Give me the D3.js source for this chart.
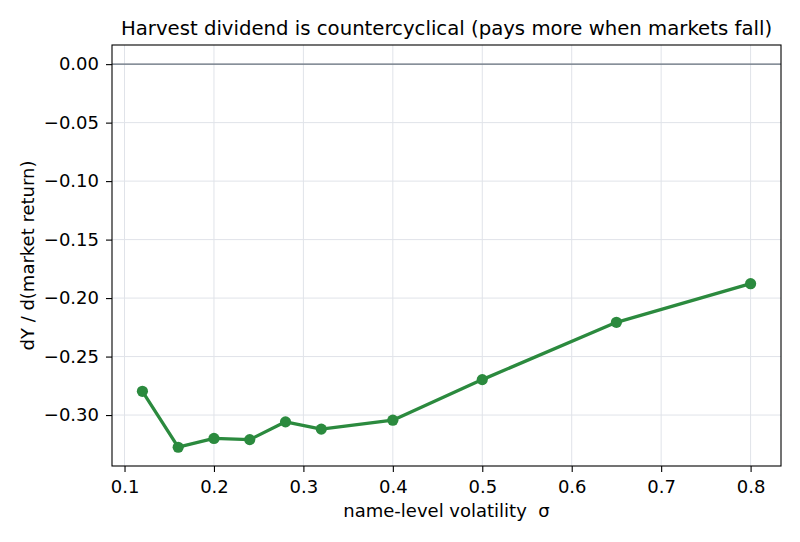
<!DOCTYPE html>
<html><head><meta charset="utf-8">
<script src="https://cdn.jsdelivr.net/npm/d3@7"></script>
<style>body{margin:0;background:#fff;} text{font-family:"DejaVu Sans",sans-serif;}</style>
</head><body><svg id="c" width="800" height="542"></svg>
<script>
const sigma = [0.12, 0.16, 0.20, 0.24, 0.28, 0.32, 0.40, 0.50, 0.65, 0.80];
const dYdM = [-0.2797, -0.3275, -0.3200, -0.3210, -0.3058, -0.3120, -0.3044, -0.2697, -0.2207, -0.1877];
const xTicks = [0.1, 0.2, 0.3, 0.4, 0.5, 0.6, 0.7, 0.8];
const yTicks = [0.00, -0.05, -0.10, -0.15, -0.20, -0.25, -0.30];
const titleText = "Harvest dividend is countercyclical (pays more when markets fall)";
const xLabel = "name-level volatility  σ";
const yLabel = "dY / d(market return)";

const svg = d3.select("#c");
const L = 112, R = 781, T = 45, B = 466;
const x = d3.scaleLinear().domain([0.086, 0.834]).range([L, R]);
const y = d3.scaleLinear().domain([-0.34355, 0.01636]).range([B, T]);
const fs = 18;
const fmtY = v => (v < 0 ? "\u2212" : "") + Math.abs(v).toFixed(2);

// grid
svg.append("g").selectAll("line").data(xTicks).join("line")
  .attr("x1", d => x(d)).attr("x2", d => x(d)).attr("y1", T).attr("y2", B)
  .attr("stroke", "#e0e3e9").attr("stroke-width", 1);
svg.append("g").selectAll("line").data(yTicks).join("line")
  .attr("x1", L).attr("x2", R).attr("y1", d => y(d)).attr("y2", d => y(d))
  .attr("stroke", "#e0e3e9").attr("stroke-width", 1);

// zero line
svg.append("line").attr("x1", L).attr("x2", R).attr("y1", y(0)).attr("y2", y(0))
  .attr("stroke", "#66707c").attr("stroke-width", 1.3);

// axes
const xAxis = d3.axisBottom(x).tickValues(xTicks).tickFormat(d3.format(".1f")).tickSize(6).tickPadding(8);
const yAxis = d3.axisLeft(y).tickValues(yTicks).tickFormat(fmtY).tickSize(6).tickPadding(7);
const gx = svg.append("g").attr("transform", `translate(0,${B})`).call(xAxis);
const gy = svg.append("g").attr("transform", `translate(${L},0)`).call(yAxis);
[gx, gy].forEach(g => {
  g.select(".domain").remove();
  g.selectAll(".tick line").attr("stroke", "#000").attr("stroke-width", 1.1);
  g.selectAll(".tick text").attr("fill", "#000").style("font-size", fs + "px").style("font-family", "DejaVu Sans");
});

// line + markers
const line = d3.line().x((d, i) => x(sigma[i])).y(d => y(d));
svg.append("path").datum(dYdM).attr("d", line).attr("fill", "none")
  .attr("stroke", "#2b8a3e").attr("stroke-width", 3.3).attr("stroke-linejoin", "round");
svg.append("g").selectAll("circle").data(dYdM).join("circle")
  .attr("cx", (d, i) => x(sigma[i])).attr("cy", d => y(d)).attr("r", 5.6)
  .attr("fill", "#2b8a3e");

// frame
svg.append("rect").attr("x", L).attr("y", T).attr("width", R - L).attr("height", B - T)
  .attr("fill", "none").attr("stroke", "#000").attr("stroke-width", 1.1);

// labels
svg.append("text").attr("x", (L + R) / 2).attr("y", 35).attr("text-anchor", "middle")
  .style("font-size", "19.7px").text(titleText);
svg.append("text").attr("x", (L + R) / 2).attr("y", 517).attr("text-anchor", "middle")
  .style("font-size", fs + "px").style("white-space", "pre").text(xLabel);
svg.append("text").attr("transform", `translate(34,${(T + B) / 2}) rotate(-90)`).attr("text-anchor", "middle")
  .style("font-size", fs + "px").text(yLabel);
</script></body></html>
